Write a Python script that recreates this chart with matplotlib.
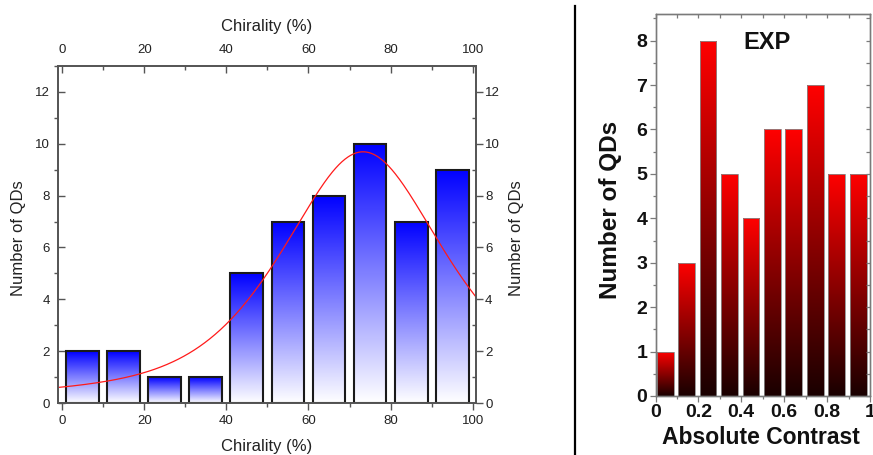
import numpy as np
import matplotlib
matplotlib.use("Agg")
import matplotlib.pyplot as plt
from matplotlib.ticker import MultipleLocator

plt.rcParams['font.family'] = ['Liberation Sans', 'DejaVu Sans']

# ---- left panel: chirality histogram with peak fit ----
chir_centers = [5, 15, 25, 35, 45, 55, 65, 75, 85, 95]
chir_counts = [2, 2, 1, 1, 5, 7, 8, 10, 7, 9]
chir_width = 8

# pseudo-Voigt fit parameters
fit_xc = 73.3
fit_hwhm = 24.0
fit_amp = 9.69
fit_eta = 0.65

# ---- right panel: absolute contrast histogram ----
con_centers = [0.045, 0.145, 0.245, 0.345, 0.445, 0.545, 0.645, 0.745, 0.845, 0.945]
con_counts = [1, 3, 8, 5, 4, 6, 6, 7, 5, 5]
con_width = 0.078

W, H = 873, 455
fig = plt.figure(figsize=(W / 100, H / 100), dpi=100)


def px_axes(l, r, t, b):
    return fig.add_axes([l / W, 1 - b / H, (r - l) / W, (b - t) / H])


def gradient_bars(ax, x, h, width, top_rgb, bottom_rgb, edgecolor, lw):
    bars = ax.bar(x, h, width=width, facecolor='none', edgecolor=edgecolor,
                  linewidth=lw, zorder=3)
    n = 256
    t = np.linspace(0, 1, n)[:, None, None]
    top = np.array(top_rgb)[None, None, :]
    bot = np.array(bottom_rgb)[None, None, :]
    img = bot + (top - bot) * t
    for b in bars:
        x0, y0 = b.get_x(), b.get_y()
        im = ax.imshow(img, extent=[x0, x0 + b.get_width(), y0, y0 + b.get_height()],
                       origin='lower', aspect='auto', zorder=2, interpolation='bilinear')
        im.set_clip_path(b)
    return bars


# ================= left panel =================
ax = px_axes(58, 476, 66, 403)
xlim = (-1.0, 100.8)
ylim = (0, 13)
ax.set_xlim(*xlim)
ax.set_ylim(*ylim)

gradient_bars(ax, chir_centers, chir_counts, chir_width,
               (0.0, 0.0, 1.0), (1.0, 1.0, 1.0), '#1a1a1a', 1.5)
ax.set_xlim(*xlim)
ax.set_ylim(*ylim)

xf = np.linspace(xlim[0], xlim[1], 400)
u = ((xf - fit_xc) / fit_hwhm) ** 2
yf = fit_amp * (fit_eta / (1 + u) + (1 - fit_eta) * np.exp(-np.log(2) * u))
ax.plot(xf, yf, color='#ff1a1a', lw=0.9, zorder=4)

spine_c = '#555555'
tick_kw = dict(colors=spine_c, labelcolor='#222222', labelsize=9.5, width=1.0)

ax.xaxis.set_major_locator(MultipleLocator(20))
ax.xaxis.set_minor_locator(MultipleLocator(10))
ax.yaxis.set_major_locator(MultipleLocator(2))
ax.yaxis.set_minor_locator(MultipleLocator(1))
ax.tick_params(axis='x', which='major', direction='out', length=5, pad=4, **tick_kw)
ax.tick_params(axis='x', which='minor', direction='out', length=3, colors=spine_c, width=1.0)
ax.tick_params(axis='y', which='major', direction='in', length=5, pad=6, **tick_kw)
ax.tick_params(axis='y', which='minor', direction='out', length=3, colors=spine_c, width=1.0)
for s in ax.spines.values():
    s.set_color(spine_c)
    s.set_linewidth(1.1)

axr = ax.twinx()
axr.set_ylim(*ylim)
axr.yaxis.set_major_locator(MultipleLocator(2))
axr.yaxis.set_minor_locator(MultipleLocator(1))
axr.tick_params(axis='y', which='major', direction='out', length=5, pad=1.5, **tick_kw)
axr.tick_params(axis='y', which='minor', direction='in', length=3, colors=spine_c, width=1.0)

axt = ax.twiny()
axt.set_xlim(*xlim)
axt.xaxis.set_major_locator(MultipleLocator(20))
axt.xaxis.set_minor_locator(MultipleLocator(10))
axt.tick_params(axis='x', which='major', direction='in', length=5, pad=7, **tick_kw)
axt.tick_params(axis='x', which='minor', direction='in', length=3, colors=spine_c, width=1.0)
for a in (axr, axt):
    for s in a.spines.values():
        s.set_color(spine_c)
        s.set_linewidth(1.1)

lab_kw = dict(fontsize=12, color='#222222', ha='center', va='center')
fig.text(267 / W, 1 - 27 / H, 'Chirality (%)', **lab_kw)
fig.text(267 / W, 1 - 446 / H, 'Chirality (%)', **lab_kw)
fig.text(19 / W, 1 - 238 / H, 'Number of QDs', rotation=90, **lab_kw)
fig.text(517 / W, 1 - 238 / H, 'Number of QDs', rotation=90, **lab_kw)

# separator
fig.add_artist(plt.Line2D([574.5 / W, 574.5 / W], [0, 1 - 6 / H], color='black',
                          lw=1.6, transform=fig.transFigure))

# ================= right panel =================
bx = px_axes(655.5, 870, 14, 396)
bx.set_xlim(0, 1)
bx.set_ylim(0, 8.6)
gradient_bars(bx, con_centers, con_counts, con_width,
               (1.0, 0.0, 0.0), (0.1, 0.0, 0.0), '#8a8a8a', 0.6)
bx.set_xlim(0, 1)
bx.set_ylim(0, 8.6)

gray = '#7a7a7a'
bx.xaxis.set_major_locator(MultipleLocator(0.2))
bx.xaxis.set_minor_locator(MultipleLocator(0.1))
bx.yaxis.set_major_locator(MultipleLocator(1))
bx.yaxis.set_minor_locator(MultipleLocator(0.5))
bx.xaxis.set_major_formatter(plt.FuncFormatter(lambda v, p: f"{v:g}"))
bold_kw = dict(labelsize=14, labelcolor='#111111', colors=gray, width=0.9)
bx.tick_params(axis='both', which='major', direction='out', length=4, pad=2, **bold_kw)
bx.tick_params(axis='both', which='minor', direction='out', length=2.5, colors=gray, width=0.9)
for lbl in bx.get_xticklabels() + bx.get_yticklabels():
    lbl.set_fontweight('bold')
for s in bx.spines.values():
    s.set_color(gray)
    s.set_linewidth(0.9)

# inward ticks on top and right spines
bt = bx.twiny()
bt.set_xlim(0, 1)
bt.xaxis.set_major_locator(MultipleLocator(0.1))
bt.tick_params(axis='x', which='major', direction='in', length=3, colors=gray, width=0.9,
               labeltop=False)
br = bx.twinx()
br.set_ylim(0, 8.6)
br.yaxis.set_major_locator(MultipleLocator(0.5))
br.tick_params(axis='y', which='major', direction='in', length=3, colors=gray, width=0.9,
               labelright=False)
bx.tick_params(axis='x', which='both', top=False)
bx.tick_params(axis='y', which='both', right=False)
for a in (bt, br):
    for s in a.spines.values():
        s.set_color(gray)
        s.set_linewidth(0.9)

bx.text(0.52, 7.95, 'EXP', fontsize=17, fontweight='bold', ha='center', va='center',
        color='#111111', zorder=5)
fig.text(761 / W, 1 - 438 / H, 'Absolute Contrast', fontsize=16.5, fontweight='bold',
         ha='center', va='center', color='#111111')
fig.text(611 / W, 1 - 210 / H, 'Number of QDs', fontsize=17.5, fontweight='bold',
         rotation=90, ha='center', va='center', color='#111111')

fig.savefig('out.png', dpi=100)
